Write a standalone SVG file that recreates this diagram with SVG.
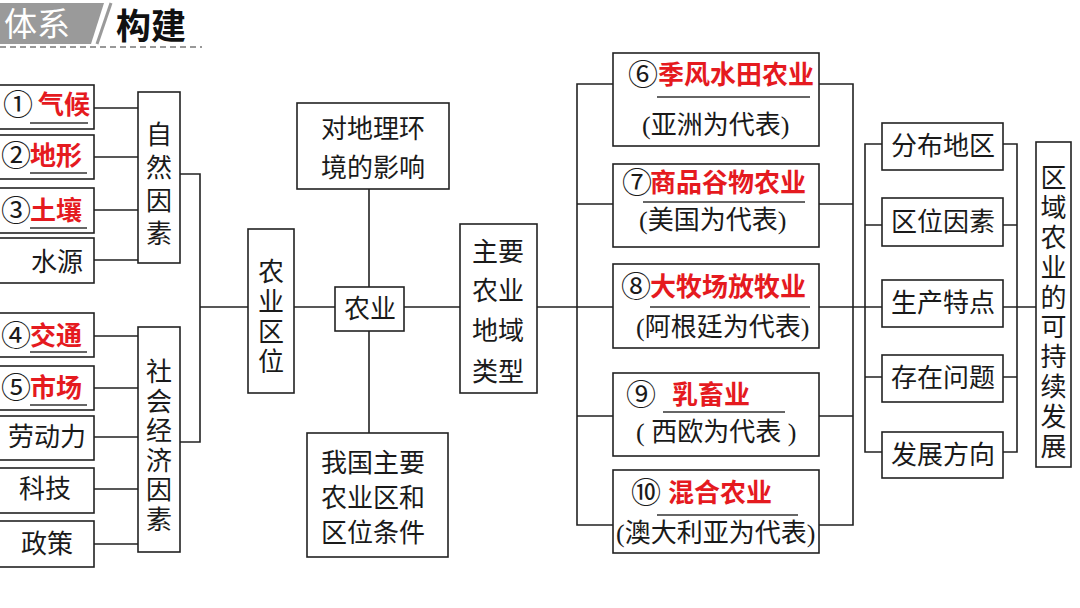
<svg xmlns="http://www.w3.org/2000/svg" width="1080" height="608" viewBox="0 0 1080 608">
<style>
.box{fill:#fff;stroke:#222;stroke-width:1.6}
.ln{fill:none;stroke:#222;stroke-width:1.6}
.ul{stroke:#333;stroke-width:1.4}
.t{font-family:"Liberation Serif","Noto Sans CJK SC",serif;font-size:26px;fill:#1a1a1a}
.n{font-family:"Noto Sans CJK SC",sans-serif;font-size:30px;fill:#1a1a1a}
.c{text-anchor:middle}
.r{font-family:"Noto Sans CJK SC",sans-serif;font-weight:bold;fill:#e51a1f}
</style>
<rect width="1080" height="608" fill="#fff"/>
<g id="header">
<polygon points="0,3 104,3 91,44 0,44" fill="#9a9a9a"/>
<line x1="111" y1="3" x2="97" y2="44" stroke="#9a9a9a" stroke-width="3"/>
<text x="4" y="36" style="font-family:'Noto Sans CJK SC',sans-serif;font-size:33px;fill:#fff">体系</text>
<text x="116" y="39" style="font-family:'Noto Sans CJK SC',sans-serif;font-size:35px;font-weight:bold;fill:#111">构建</text>
<line x1="0" y1="47" x2="202" y2="47" stroke="#777" stroke-width="1.5" stroke-dasharray="6,4"/>
</g>
<g id="connectors">
<path class="ln" d="M94,108H138M94,157H138M94,210H138M94,260H138"/>
<path class="ln" d="M94,336H138M94,388H138M94,437H138M94,489H138M94,544H138"/>
<path class="ln" d="M180,174H200V442H180M200,307H248M294,307H335M404,307H460M537,307H613"/>
<path class="ln" d="M369,189V287M369,331V433"/>
<path class="ln" d="M613,84H577V525H613M577,204H613M577,416H613"/>
<path class="ln" d="M819,84H853V525H819M819,204H853M819,416H853M819,307H882"/>
<path class="ln" d="M882,144H865V452H882M865,225H882M865,377H882"/>
<path class="ln" d="M1003,144H1017V452H1003M1003,225H1017M1003,377H1017M1003,307H1036"/>
</g>
<g id="n1"><rect class="box" x="-3" y="85" width="97" height="44"/><text class="n" x="3" y="115">①</text><text class="t r" x="38" y="114">气候</text><line class="ul" x1="30" y1="123" x2="88" y2="123"/></g>
<g id="n2"><rect class="box" x="-3" y="135" width="97" height="44"/><text class="n" x="1" y="166">②</text><text class="t r" x="30" y="165">地形</text><line class="ul" x1="30" y1="173" x2="87" y2="173"/></g>
<g id="n3"><rect class="box" x="-3" y="188" width="97" height="45"/><text class="n" x="1" y="221">③</text><text class="t r" x="30" y="220">土壤</text><line class="ul" x1="30" y1="228" x2="87" y2="228"/></g>
<g id="n4"><rect class="box" x="-3" y="238" width="97" height="45"/><text class="t c" x="57" y="271">水源</text></g>
<g id="n5"><rect class="box" x="-3" y="313" width="97" height="44"/><text class="n" x="1" y="346">④</text><text class="t r" x="30" y="345">交通</text><line class="ul" x1="30" y1="352" x2="87" y2="352"/></g>
<g id="n6"><rect class="box" x="-3" y="366" width="97" height="44"/><text class="n" x="1" y="398">⑤</text><text class="t r" x="30" y="397">市场</text><line class="ul" x1="30" y1="405" x2="87" y2="405"/></g>
<g id="n7"><rect class="box" x="-3" y="416" width="97" height="44"/><text class="t c" x="47" y="446">劳动力</text></g>
<g id="n8"><rect class="box" x="-3" y="468" width="97" height="45"/><text class="t c" x="45" y="498">科技</text></g>
<g id="n9"><rect class="box" x="-3" y="521" width="97" height="46"/><text class="t c" x="47" y="553">政策</text></g>
<g id="ziran"><rect class="box" x="138" y="92" width="42" height="171"/><text class="t c" x="159"><tspan x="159" y="144">自</tspan><tspan x="159" y="177">然</tspan><tspan x="159" y="210">因</tspan><tspan x="159" y="243">素</tspan></text></g>
<g id="shehui"><rect class="box" x="138" y="327" width="42" height="225"/><text class="t c"><tspan x="159" y="381">社</tspan><tspan x="159" y="411">会</tspan><tspan x="159" y="440">经</tspan><tspan x="159" y="470">济</tspan><tspan x="159" y="499">因</tspan><tspan x="159" y="529">素</tspan></text></g>
<g id="quwei"><rect class="box" x="248" y="229" width="46" height="164"/><text class="t c"><tspan x="271" y="281">农</tspan><tspan x="271" y="311">业</tspan><tspan x="271" y="341">区</tspan><tspan x="271" y="371">位</tspan></text></g>
<g id="nongye"><rect class="box" x="335" y="287" width="69" height="44"/><text class="t c" x="370" y="318">农业</text></g>
<g id="yingxiang"><rect class="box" x="297" y="103" width="152" height="86"/><text class="t c"><tspan x="373" y="138">对地理环</tspan><tspan x="373" y="177">境的影响</tspan></text></g>
<g id="woguo"><rect class="box" x="307" y="433" width="141" height="124"/><text class="t c"><tspan x="373" y="472">我国主要</tspan><tspan x="373" y="507">农业区和</tspan><tspan x="373" y="542">区位条件</tspan></text></g>
<g id="leixing"><rect class="box" x="460" y="224" width="77" height="169"/><text class="t c"><tspan x="498" y="261">主要</tspan><tspan x="498" y="300">农业</tspan><tspan x="498" y="340">地域</tspan><tspan x="498" y="381">类型</tspan></text></g>
<g id="t6"><rect class="box" x="613" y="53" width="206" height="93"/><text class="n" x="628" y="85">⑥</text><text class="t r" x="658" y="84">季风水田农业</text><line class="ul" x1="657" y1="97" x2="810" y2="97"/><text class="t" x="642" y="134">(亚洲为代表)</text></g>
<g id="t7"><rect class="box" x="613" y="164" width="206" height="83"/><text class="n" x="622" y="193">⑦</text><text class="t r" x="650" y="192">商品谷物农业</text><line class="ul" x1="643" y1="202" x2="805" y2="202"/><text class="t" x="639" y="229">(美国为代表)</text></g>
<g id="t8"><rect class="box" x="613" y="264" width="206" height="84"/><text class="n" x="621" y="297">⑧</text><text class="t r" x="650" y="296">大牧场放牧业</text><line class="ul" x1="650" y1="307" x2="810" y2="307"/><text class="t" x="636" y="336">(阿根廷为代表)</text></g>
<g id="t9"><rect class="box" x="613" y="373" width="206" height="83"/><text class="n" x="626" y="405">⑨</text><text class="t r" x="672" y="404">乳畜业</text><line class="ul" x1="663" y1="412" x2="785" y2="412"/><text class="t" x="636" y="441">(  西欧为代表  )</text></g>
<g id="t10"><rect class="box" x="613" y="470" width="206" height="83"/><text class="n" x="631" y="503">⑩</text><text class="t r" x="668" y="502">混合农业</text><line class="ul" x1="657" y1="515" x2="798" y2="515"/><text class="t" x="616" y="542">(澳大利亚为代表)</text></g>
<g id="f1"><rect class="box" x="882" y="123" width="121" height="47"/><text class="t c" x="943" y="155">分布地区</text></g>
<g id="f2"><rect class="box" x="882" y="198" width="121" height="48"/><text class="t c" x="943" y="231">区位因素</text></g>
<g id="f3"><rect class="box" x="882" y="280" width="121" height="47"/><text class="t c" x="943" y="312">生产特点</text></g>
<g id="f4"><rect class="box" x="882" y="355" width="121" height="47"/><text class="t c" x="943" y="387">存在问题</text></g>
<g id="f5"><rect class="box" x="882" y="432" width="121" height="46"/><text class="t c" x="943" y="464">发展方向</text></g>
<g id="kechixu"><rect class="box" x="1036" y="142" width="35" height="325"/><text class="t c"><tspan x="1053.5" y="187">区</tspan><tspan x="1053.5" y="217">域</tspan><tspan x="1053.5" y="247">农</tspan><tspan x="1053.5" y="277">业</tspan><tspan x="1053.5" y="307">的</tspan><tspan x="1053.5" y="336">可</tspan><tspan x="1053.5" y="366">持</tspan><tspan x="1053.5" y="396">续</tspan><tspan x="1053.5" y="426">发</tspan><tspan x="1053.5" y="456">展</tspan></text></g>
</svg>
